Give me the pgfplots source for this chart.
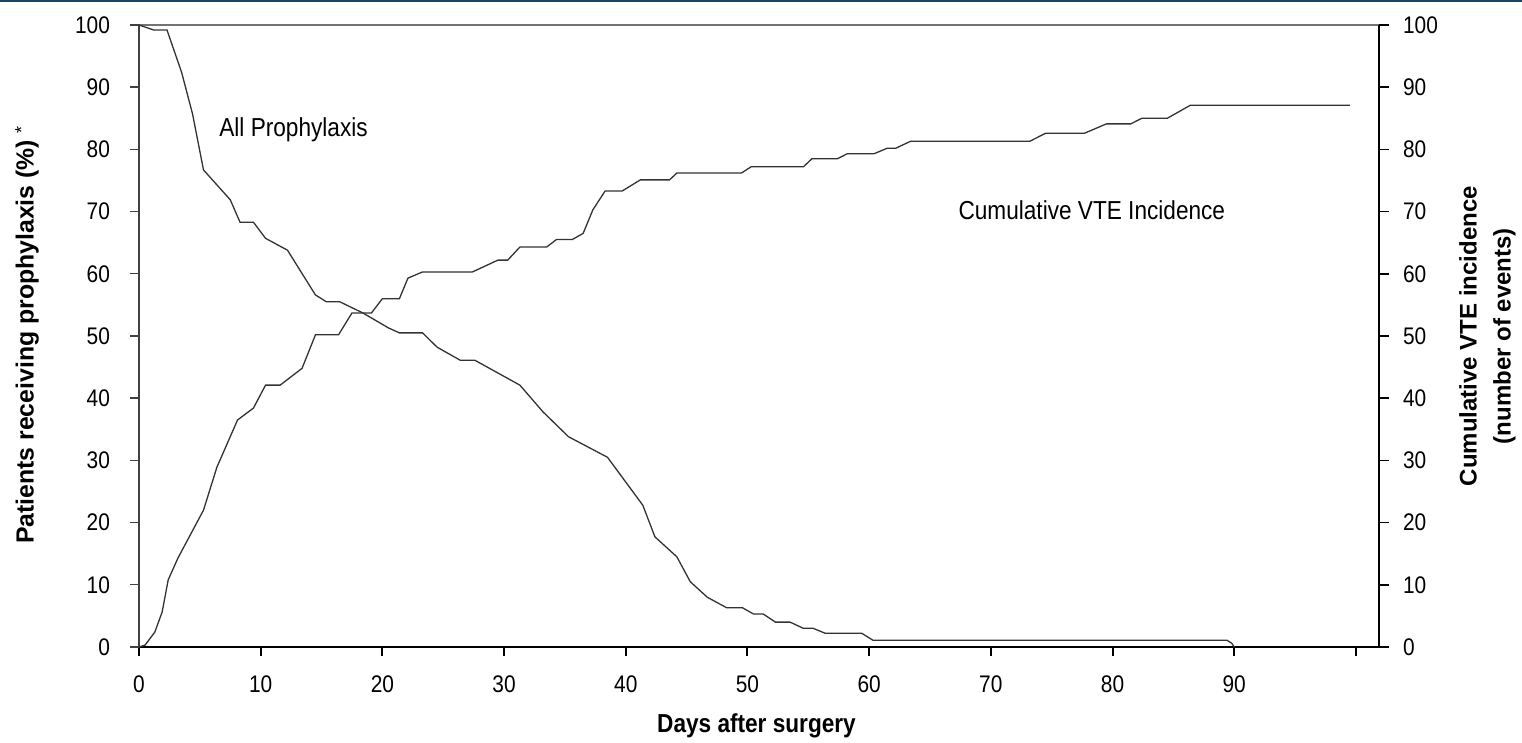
\documentclass[border=0pt]{standalone}
\usepackage{fontspec}
\setmainfont{Liberation Sans}[FakeStretch=0.87]
\newfontfamily\plainsans{Liberation Sans}
\usepackage{pgfplots}
\pgfplotsset{compat=1.18}
\usetikzlibrary{calc}

\pgfplotstableread{
x y
0 100
1.2 99.2
2.3 99.2
3.5 92.4
4.4 85.7
5.3 76.7
7.5 71.9
8.3 68.3
9.4 68.3
10.4 65.7
12.2 63.8
14.5 56.6
15.4 55.5
16.5 55.5
18.4 53.7
20.5 51.3
21.4 50.5
23.3 50.5
24.5 48.2
26.4 46.1
27.6 46.1
31.3 42.1
33.2 37.8
35.3 33.8
38.5 30.5
41.4 22.8
42.4 17.7
44.2 14.5
45.3 10.5
46.7 8.0
48.3 6.3
49.6 6.3
50.5 5.3
51.3 5.3
52.3 4.0
53.5 4.0
54.6 3.0
55.4 3.0
56.4 2.2
59.4 2.2
60.3 1.1
89.4 1.1
89.8 0.6
90.0 0
}\prophylaxis

\pgfplotstableread{
x y
0 0
0.5 0.3
1.3 2.4
1.9 5.6
2.4 10.8
3.2 14.3
5.3 22.0
6.4 28.9
8.1 36.5
9.4 38.4
10.4 42.1
11.6 42.1
13.4 44.8
14.5 50.2
16.4 50.2
17.5 53.7
19.1 53.7
20.0 56.0
21.4 56.0
22.1 59.3
23.3 60.3
27.4 60.3
29.5 62.2
30.3 62.2
31.3 64.3
33.5 64.3
34.3 65.5
35.6 65.5
36.5 66.5
37.3 70.3
38.3 73.3
39.7 73.3
41.2 75.1
43.6 75.1
44.2 76.2
49.5 76.2
50.3 77.2
54.6 77.2
55.3 78.5
57.4 78.5
58.2 79.3
60.4 79.3
61.5 80.2
62.2 80.2
63.4 81.3
73.2 81.3
74.5 82.6
77.7 82.6
79.5 84.1
81.5 84.1
82.4 85.0
84.5 85.0
86.4 87.1
99.5 87.1
}\vte

\begin{document}
\begin{tikzpicture}
\pgfplotsset{
  base/.style={
    width=620bp, height=311bp, scale only axis,
    xmin=0, xmax=101.9, ymin=0, ymax=100,
    font=\fontsize{12bp}{14bp}\selectfont,
    tick align=outside,
    /pgf/number format/assume math mode=true,
    clip=false,
  },
  curve/.style={line width=0.65bp, black!80, mark=none},
}
\begin{axis}[base,
  axis x line*=bottom, axis y line*=left,
  x axis line style={line width=1bp, black},
  y axis line style={line width=0.7bp, black!75},
  xtick={0,10,...,100},
  xticklabels={0,10,20,30,40,50,60,70,80,90,{}},
  ytick={0,10,...,100},
  major tick length=4.5bp,
  xtick style={line width=1bp, black},
  ytick style={line width=0.7bp, black!75},
  xticklabel style={yshift=-6.5bp},
  yticklabel style={xshift=-6.5bp},
]
\draw[line width=0.6bp, black!55] (rel axis cs:0,1) -- (rel axis cs:1,1);
\addplot[curve] table[x=x, y=y] {\prophylaxis};
\node[font=\fontsize{13bp}{15bp}\selectfont] at (axis cs:12.7,83.1) {All Prophylaxis};
\node[font=\fontsize{13bp}{15bp}\selectfont] at (axis cs:78.3,70.3) {Cumulative VTE Incidence};
\node[font=\fontsize{13bp}{15bp}\selectfont\bfseries] at (rel axis cs:0.498,-0.127) {Days after surgery};
\node[font=\plainsans\fontsize{12.4bp}{14bp}\selectfont\bfseries, rotate=90] at (rel axis cs:-0.0903,0.5016)
  {Patients receiving prophylaxis (\%)~\raisebox{0.45ex}{\mdseries\fontsize{9bp}{10bp}\selectfont *}};
\node[font=\plainsans\fontsize{12bp}{14bp}\selectfont\bfseries, rotate=90, align=center] at (rel axis cs:1.0875,0.5)
  {Cumulative VTE incidence\\[3bp](number of events)};
\coordinate (ll) at (rel axis cs:0,0);
\coordinate (ur) at (rel axis cs:1,1);
\end{axis}
\begin{axis}[base,
  axis x line=none, axis y line*=right,
  y axis line style={line width=1bp, black},
  ytick={0,10,...,100},
  major tick length=5bp,
  ytick style={line width=0.8bp, black},
  yticklabel style={xshift=3.5bp},
]
\addplot[curve] table[x=x, y=y] {\vte};
\end{axis}
\pgfresetboundingbox
\path ($(ll)+(-69.5bp,-48bp)$) rectangle ($(ur)+(71.5bp,12.5bp)$);
\fill[fill={rgb,255:red,25;green,70;blue,100}] ($(ll|-ur)+(-69.5bp,12.5bp)$) rectangle ($(ur)+(71.5bp,11.5bp)$);
\end{tikzpicture}
\end{document}
